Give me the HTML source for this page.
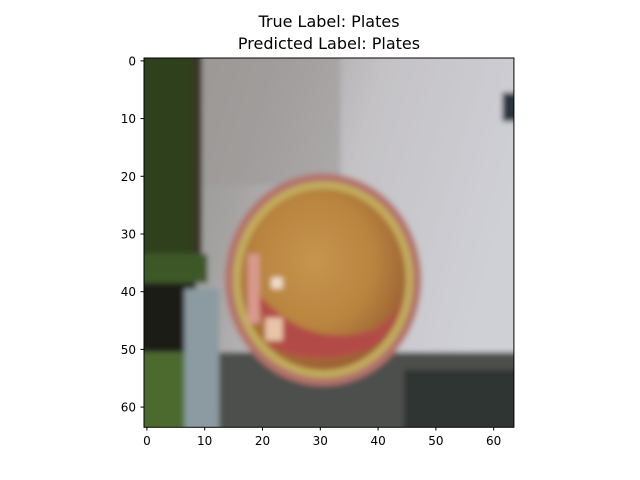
<!DOCTYPE html>
<html><head><meta charset="utf-8"><style>
html,body{margin:0;padding:0;background:#fff;width:640px;height:480px;overflow:hidden}
text{font-family:"DejaVu Sans","Liberation Sans",sans-serif}
</style></head><body>
<svg id="chart" width="640" height="480" viewBox="0 0 640 480" xmlns="http://www.w3.org/2000/svg">
<text x="329" y="27" font-size="16" text-anchor="middle" fill="#000">True Label: Plates</text>
<text x="329" y="49" font-size="16" text-anchor="middle" fill="#000">Predicted Label: Plates</text>
<defs>
<clipPath id="clip"><rect x="0" y="0" width="64" height="64"/></clipPath>
<filter id="bl" x="-10%" y="-10%" width="120%" height="120%"><feGaussianBlur stdDeviation="0.45"/></filter>
<linearGradient id="wall" x1="0" x2="1" y1="0" y2="0.3">
<stop offset="0" stop-color="#8f8d8a"/><stop offset="0.35" stop-color="#a5a3a2"/><stop offset="0.6" stop-color="#c4c2c5"/><stop offset="1" stop-color="#cfd0d6"/></linearGradient>
<radialGradient id="bowl" cx="0.45" cy="0.4" r="0.6">
<stop offset="0" stop-color="#c7954f"/><stop offset="0.6" stop-color="#b8843f"/><stop offset="1" stop-color="#9c5f33"/></radialGradient>
</defs>
<g transform="translate(144,58) scale(5.78,5.77)">
<g clip-path="url(#clip)">
<g filter="url(#bl)">
<rect x="-2" y="-2" width="68" height="68" fill="url(#wall)"/>
<rect x="9" y="-2" width="25" height="24" fill="#9d9a98" opacity="0.6"/>
<rect x="-2" y="-2" width="12" height="36" fill="#2e3f1f"/>
<rect x="8.5" y="-2" width="1.5" height="36" fill="#3a3525"/>
<rect x="-2" y="34" width="13" height="5" fill="#3c5826"/>
<rect x="-2" y="39" width="11" height="12" fill="#1f1b16"/>
<rect x="-2" y="51" width="9" height="15" fill="#4e6b2d"/>
<rect x="7" y="40" width="6" height="26" fill="#8b9ba1"/>
<rect x="13" y="51" width="53" height="15" fill="#4d504d"/>
<rect x="45" y="54" width="21" height="12" fill="#2f3431"/>
<rect x="62" y="6" width="4" height="5" fill="#2a3640"/>
<ellipse cx="31" cy="38.4" rx="17" ry="18.4" fill="#b3736a"/>
<ellipse cx="31" cy="38.4" rx="15.6" ry="17" fill="#c2ad5c"/>
<ellipse cx="31" cy="38.4" rx="14.3" ry="15.7" fill="url(#bowl)"/>
<path d="M19 40 Q28 51 40 47 Q44 45 45 40 Q44 47 40 50 Q30 54 22 50 Z" fill="#b24c46"/>
<rect x="18" y="34" width="2" height="12" fill="#d99a8e"/>
<rect x="22" y="38" width="2" height="2" fill="#f0dcc8"/>
<rect x="21" y="45" width="3" height="4" fill="#e8c4a8"/>
</g>
</g>
<rect x="0" y="0" width="64" height="64" fill="none" stroke="#000" stroke-width="0.17"/>
</g>
<g id="xaxis"></g>
<g id="yaxis"></g>
</svg>
<script>
const xTicks=[0,10,20,30,40,50,60];
const yTicks=[0,10,20,30,40,50,60];
const NS="http://www.w3.org/2000/svg";
const px=x=>144+(x+0.5)*5.78, py=y=>58+(y+0.5)*5.77;
const xa=document.getElementById('xaxis'), ya=document.getElementById('yaxis');
xTicks.forEach(t=>{
 const l=document.createElementNS(NS,'line');
 
 
 l.setAttribute('x1',px(t));l.setAttribute('x2',px(t));l.setAttribute('y1',427);l.setAttribute('y2',430.5);l.setAttribute('stroke','#000');
 xa.appendChild(l);
 const s=document.createElementNS(NS,'text');
 
 
 s.setAttribute('x',px(t));s.setAttribute('y',445);s.setAttribute('font-size','12');s.setAttribute('text-anchor','middle');
 s.textContent=t;xa.appendChild(s);
});
yTicks.forEach(t=>{
 const l=document.createElementNS(NS,'line');
 
 
 l.setAttribute('x1',140.5);l.setAttribute('x2',144);l.setAttribute('y1',py(t));l.setAttribute('y2',py(t));l.setAttribute('stroke','#000');
 ya.appendChild(l);
 const s=document.createElementNS(NS,'text');
 
 
 s.setAttribute('x',136);s.setAttribute('y',py(t)+4.5);s.setAttribute('font-size','12');s.setAttribute('text-anchor','end');
 s.textContent=t;ya.appendChild(s);
});
</script>
</body></html>
